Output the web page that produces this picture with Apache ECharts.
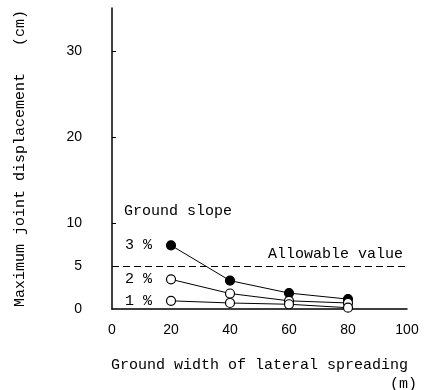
<!DOCTYPE html>
<html>
<head>
<meta charset="utf-8">
<script src="https://cdn.jsdelivr.net/npm/echarts@6/dist/echarts.min.js"></script>
<style>
  html, body { margin: 0; padding: 0; background: #fff; }
  #chart { width: 424px; height: 390px; }
</style>
</head>
<body>
<div id="chart"></div>
<script>
  // ground width of lateral spreading (m)
  const widths = [20, 40, 60, 80];
  // max joint displacement (cm) for each ground slope
  const slope3 = [7.4, 3.3, 1.85, 1.15];
  const slope2 = [3.45, 1.8, 0.95, 0.7];
  const slope1 = [0.95, 0.7, 0.55, 0.15];
  const slopeNames = ['3 %', '2 %', '1 %'];
  const allowable = 5;
  const yLabelValues = [0, 5, 10, 20, 30];
  const yTickValues = [10, 20, 30];

  const mono = '"Liberation Mono", "DejaVu Sans Mono", monospace';
  const sans = '"Liberation Sans", Arial, sans-serif';

  const chart = echarts.init(document.getElementById('chart'));

  const makeSeries = (name, values, filled) => ({
    name: name,
    type: 'line',
    symbol: 'circle',
    symbolSize: 9,
    lineStyle: { color: '#000', width: 1 },
    itemStyle: { color: filled ? '#000' : '#fff', borderColor: '#000', borderWidth: 1.2 },
    z: filled ? 3 : 4,
    data: values.map((v, i) => {
      const item = { value: [widths[i], v] };
      if (i === 0) {
        item.label = {
          show: true,
          position: 'left',
          distance: 14,
          formatter: name,
          color: '#000',
          fontFamily: mono,
          fontSize: 15
        };
      }
      return item;
    })
  });

  const series = [
    makeSeries(slopeNames[0], slope3, true),
    makeSeries(slopeNames[1], slope2, false),
    makeSeries(slopeNames[2], slope1, false)
  ];
  series[0].markLine = {
    silent: true,
    symbol: 'none',
    lineStyle: { color: '#000', type: [7, 4], width: 1.2 },
    label: {
      show: true,
      position: 'insideEndTop',
      formatter: 'Allowable value',
      color: '#000',
      fontFamily: mono,
      fontSize: 15,
      distance: 4
    },
    data: [{ yAxis: allowable }]
  };

  chart.setOption({
    animation: false,
    backgroundColor: '#fff',
    grid: { left: 112, right: 17, top: 8, bottom: 81 },
    xAxis: {
      type: 'value',
      min: 0,
      max: 100,
      interval: 20,
      name: 'Ground width of lateral spreading',
      nameLocation: 'middle',
      nameGap: 49,
      nameTextStyle: { color: '#000', fontFamily: mono, fontSize: 15 },
      axisLine: { lineStyle: { color: '#000', width: 1.5 } },
      axisTick: { show: false },
      splitLine: { show: false },
      axisLabel: { color: '#000', fontFamily: sans, fontSize: 14, margin: 14 }
    },
    yAxis: {
      type: 'value',
      min: 0,
      max: 35,
      interval: 5,
      name: 'Maximum joint displacement   (cm)',
      nameLocation: 'middle',
      nameGap: 84,
      nameTextStyle: { color: '#000', fontFamily: mono, fontSize: 15 },
      axisLine: { show: true, lineStyle: { color: '#000', width: 1.5 } },
      axisTick: { show: true, inside: true, length: 4, customValues: yTickValues, lineStyle: { color: '#000' } },
      splitLine: { show: false },
      axisLabel: { color: '#000', fontFamily: sans, fontSize: 14, margin: 30, customValues: yLabelValues }
    },
    graphic: [
      {
        type: 'text',
        left: 124,
        top: 204,
        style: { text: 'Ground slope', fill: '#000', font: '15px ' + mono }
      },
      {
        type: 'text',
        left: 390,
        top: 377,
        style: { text: '(m)', fill: '#000', font: '15px ' + mono }
      }
    ],
    series: series
  });

  window.addEventListener('resize', () => chart.resize());
</script>
</body>
</html>
